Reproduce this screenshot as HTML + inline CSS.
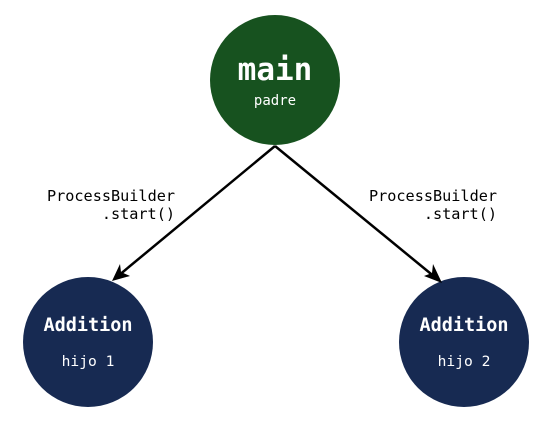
<!DOCTYPE html>
<html><head><style>body{margin:0;background:#fff}</style></head><body>
<svg width="552" height="420" xmlns="http://www.w3.org/2000/svg" font-family="DejaVu Sans Mono, Liberation Mono, monospace">
<circle cx="275" cy="80" r="65" fill="#17521f"/>
<circle cx="88" cy="342" r="65" fill="#172a52"/>
<circle cx="464" cy="342" r="65" fill="#172a52"/>
<line x1="275" y1="146" x2="118" y2="276" stroke="#000" stroke-width="2.5"/>
<line x1="275" y1="146" x2="436" y2="278" stroke="#000" stroke-width="2.5"/>
<path d="M112,281 L120,264 L121,272 L130,276 Z" fill="#000"/>
<path d="M442,283 L424,276 L432,273 L433,264 Z" fill="#000"/>
<text x="275" y="80" fill="#fff" font-size="31" font-weight="bold" text-anchor="middle">main</text>
<text x="275" y="105" fill="#fff" font-size="14" text-anchor="middle">padre</text>
<text x="88" y="331" fill="#fff" font-size="18.5" font-weight="bold" text-anchor="middle">Addition</text>
<text x="88" y="366" fill="#fff" font-size="14.6" text-anchor="middle">hijo 1</text>
<text x="464" y="331" fill="#fff" font-size="18.5" font-weight="bold" text-anchor="middle">Addition</text>
<text x="464" y="366" fill="#fff" font-size="14.6" text-anchor="middle">hijo 2</text>
<g font-size="15.2" fill="#000" text-anchor="end">
<text x="175" y="201">ProcessBuilder</text>
<text x="175" y="219">.start()</text>
<text x="497" y="201">ProcessBuilder</text>
<text x="497" y="219">.start()</text>
</g>
</svg>
</body></html>
